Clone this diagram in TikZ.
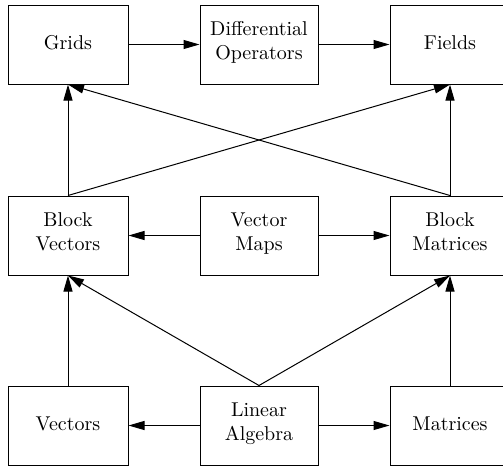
\documentclass[tikz,border=0pt]{standalone}
\usetikzlibrary{arrows.meta}
\begin{document}
\begin{tikzpicture}[x=0.5pt,y=-0.5pt,
  box/.style={draw, rectangle, align=center, minimum width=60pt,
    minimum height=39.5pt, inner sep=0pt, line width=0.5pt,
    execute at begin node={\strut}, execute at end node={\strut}},
  midbox/.style={box, minimum width=59pt},
  link/.style={line width=0.5pt, -{Triangle[length=8pt,width=4.5pt]}}]
\useasboundingbox (0,0) rectangle (503,466);

% top row
\node[box]    (grids)  at (68,44.5)  {Grids};
\node[midbox] (diffop) at (259,44.5) {Differential\\Operators};
\node[box]    (fields) at (450,44.5) {Fields};

% middle row
\node[box]    (bvec)   at (68,235.5)  {Block\\Vectors};
\node[midbox] (vmaps)  at (259,235.5) {Vector\\Maps};
\node[box]    (bmat)   at (450,235.5) {Block\\Matrices};

% bottom row
\node[box]    (vecs)   at (68,425.5)  {Vectors};
\node[midbox] (linalg) at (259,425.5) {Linear\\Algebra};
\node[box]    (mats)   at (450,425.5) {Matrices};

% horizontal links
\draw[link] (grids.east)  -- (diffop.west);
\draw[link] (diffop.east) -- (fields.west);
\draw[link] (vmaps.west)  -- (bvec.east);
\draw[link] (vmaps.east)  -- (bmat.west);
\draw[link] (linalg.west) -- (vecs.east);
\draw[link] (linalg.east) -- (mats.west);

% upward links
\draw[link] (vecs.north)   -- (bvec.south);
\draw[link] (mats.north)   -- (bmat.south);
\draw[link] (linalg.north) -- (bvec.south);
\draw[link] (linalg.north) -- (bmat.south);
\draw[link] (bvec.north)   -- (grids.south);
\draw[link] (bvec.north)   -- (fields.south);
\draw[link] (bmat.north)   -- (fields.south);
\draw[link] (bmat.north)   -- (grids.south);
\end{tikzpicture}
\end{document}
